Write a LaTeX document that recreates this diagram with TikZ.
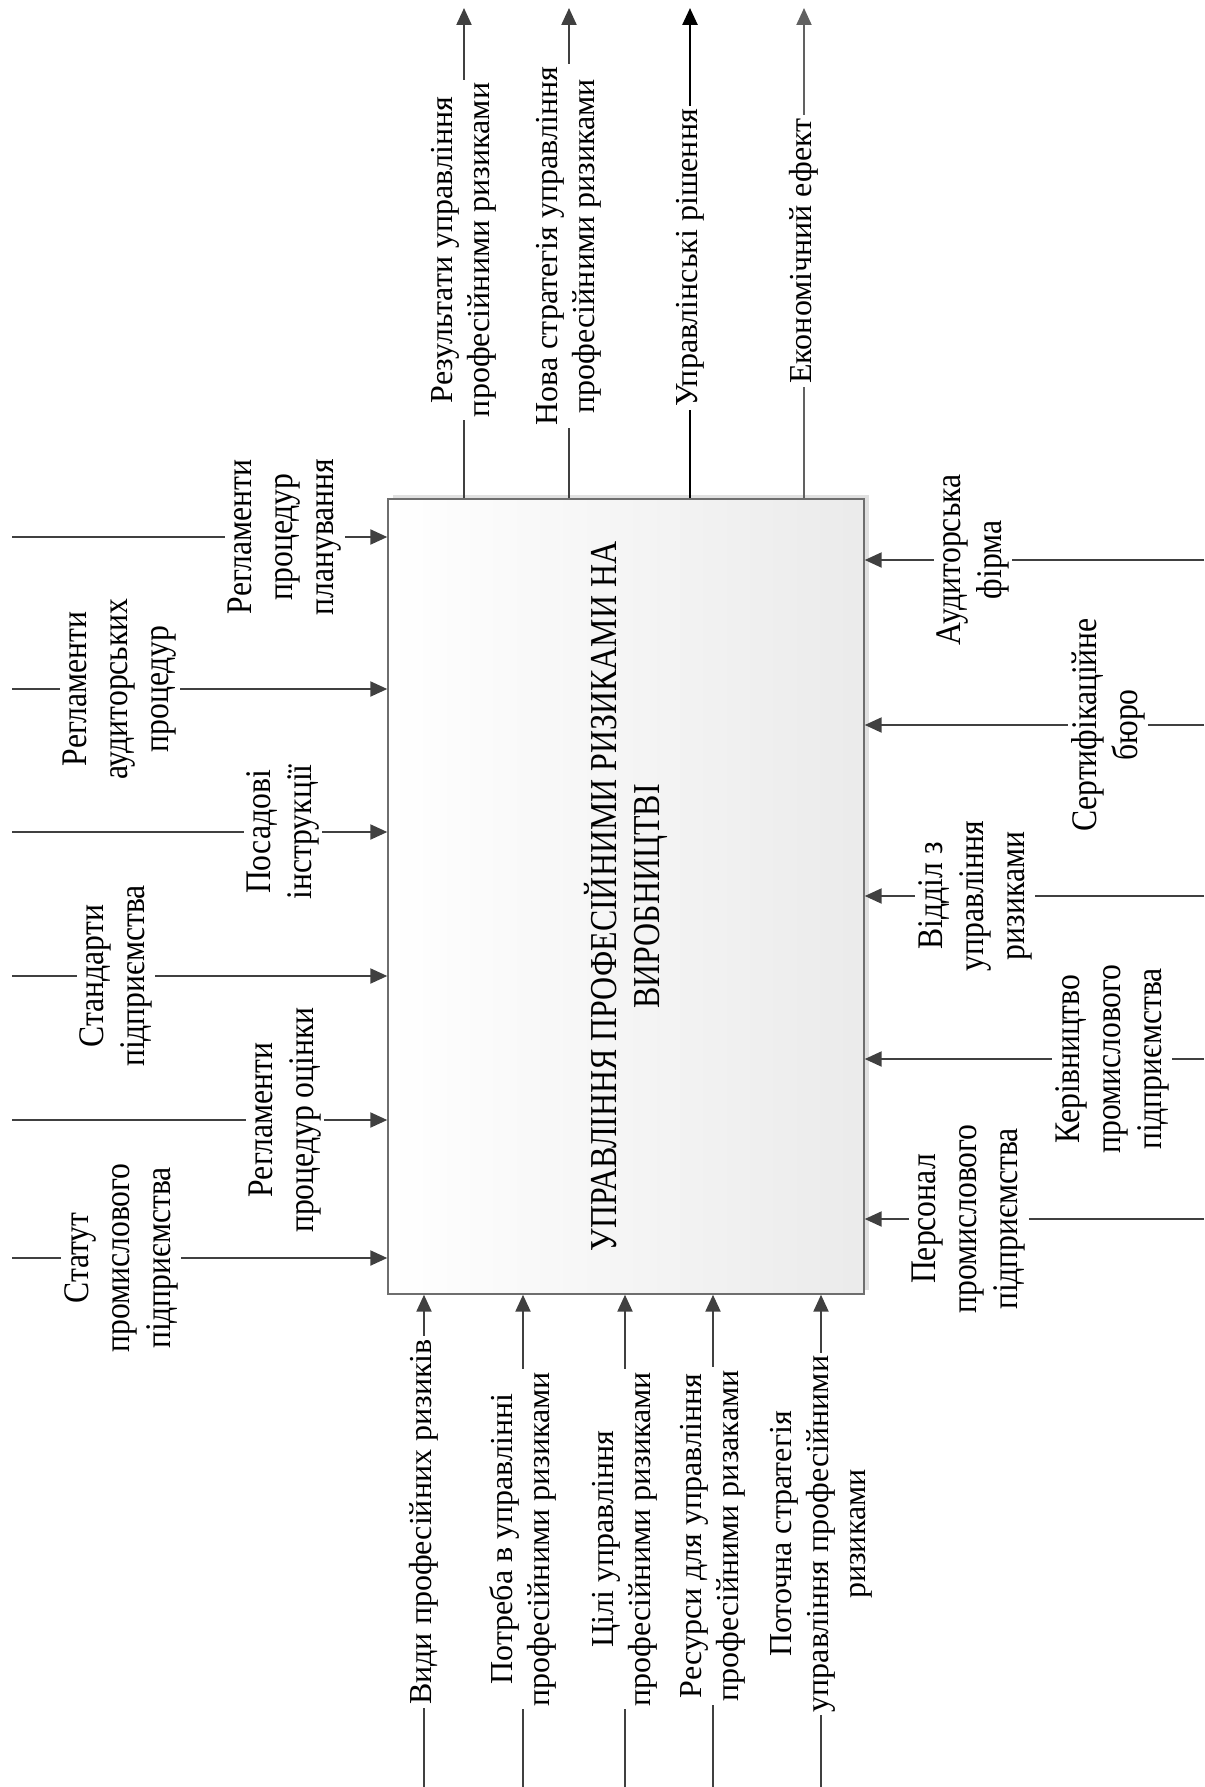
\documentclass[tikz,border=0pt]{standalone}
\usepackage{fontspec}
\setmainfont{Liberation Serif}
\newfontfamily\condfont[FakeStretch=0.88]{Liberation Serif}
\newfontfamily\boxfont[FakeStretch=0.84]{Liberation Serif}
\usetikzlibrary{arrows.meta,shadows}
\definecolor{linecol}{HTML}{404040}
\definecolor{boxgray}{HTML}{6E6E6E}
\tikzset{
  flowarrow/.style={draw=linecol, line width=1.1pt, -{Triangle[length=8.5pt,width=7.5pt]}},
  lbltb/.style={fill=white, inner sep=1.5pt, rotate=90, align=center, text=black,
    font=\fontsize{16}{18.4}\selectfont},
  lblside/.style={fill=white, inner sep=1.5pt, rotate=90, align=center, text=black,
    font=\condfont\fontsize{18}{20.5}\selectfont},
  mainbox/.style={draw=boxgray, line width=0.7pt, minimum width=238pt, minimum height=397.5pt,
    inner sep=0pt, left color=white, right color=black!8,
    drop shadow={shadow xshift=2.5pt, shadow yshift=2pt, fill=black!12, opacity=1}},
  boxtitle/.style={rotate=90, align=center, inner sep=0pt,
    font=\boxfont\fontsize{19}{21.7}\selectfont}
}
\begin{document}
\begin{tikzpicture}[x=0.5pt,y=-0.5pt]
\useasboundingbox (0,0) rectangle (1204,1787);
\node[mainbox] (box) at (626,896.5) {};
\node[boxtitle] (title) at (box.center) {УПРАВЛІННЯ ПРОФЕСІЙНИМИ РИЗИКАМИ НА\\ВИРОБНИЦТВІ};

% top outputs
\coordinate (t1) at (464,8);
\coordinate (t2) at (569,8);
\coordinate (t3) at (690,8);
\coordinate (t4) at (804,8);
\draw[flowarrow] (t1 |- box.north) -- (t1);
\draw[flowarrow] (t2 |- box.north) -- (t2);
\draw[flowarrow, draw=black, line width=1.3pt] (t3 |- box.north) -- (t3);
\draw[flowarrow, draw=black!62, line width=1pt] (t4 |- box.north) -- (t4);
\node[lbltb] (Lt1) at (464,250) {Результати управління\\професійними ризиками};
\node[lbltb] (Lt2) at (569,246) {Нова стратегія управління\\професійними ризиками};
\node[lbltb] (Lt3) at (690,258) {Управлінські рішення};
\node[lbltb] (Lt4) at (804,251) {Економічний ефект};

% left
\coordinate (c1) at (12,537);
\coordinate (c2) at (12,689);
\coordinate (c3) at (12,832);
\coordinate (c4) at (12,976);
\coordinate (c5) at (12,1120);
\coordinate (c6) at (12,1258);
\foreach \i in {1,...,6}{\draw[flowarrow] (c\i) -- (c\i -| box.west);}
\node[lblside] (Lc1) at (285,537) {Регламенти\\процедур\\планування};
\node[lblside] (Lc2) at (120,689) {Регламенти\\аудиторських\\процедур};
\node[lblside] (Lc3) at (283,832) {Посадові\\інструкції};
\node[lblside] (Lc4) at (116,976) {Стандарти\\підприємства};
\node[lblside] (Lc5) at (285,1120) {Регламенти\\процедур оцінки};
\node[lblside] (Lc6) at (121,1258) {Статут\\промислового\\підприємства};

% right
\coordinate (m1) at (1204,560);
\coordinate (m2) at (1204,725);
\coordinate (m3) at (1204,896);
\coordinate (m4) at (1204,1059);
\coordinate (m5) at (1204,1219);
\foreach \i in {1,...,5}{\draw[flowarrow] (m\i) -- (m\i -| box.east);}
\node[lblside] (Lm1) at (973,560) {Аудиторська\\фірма};
\node[lblside] (Lm2) at (1108,725) {Сертифікаційне\\бюро};
\node[lblside] (Lm3) at (975,896) {Відділ з\\управління\\ризиками};
\node[lblside] (Lm4) at (1112,1059) {Керівництво\\промислового\\підприємства};
\node[lblside] (Lm5) at (969,1219) {Персонал\\промислового\\підприємства};

% bottom
\coordinate (b1) at (424,1787);
\coordinate (b2) at (523,1787);
\coordinate (b3) at (625,1787);
\coordinate (b4) at (713,1787);
\coordinate (b5) at (821,1787);
\foreach \i in {1,...,5}{\draw[flowarrow] (b\i) -- (b\i |- box.south);}
\node[lbltb] (Lb1) at (424,1522) {Види професійних ризиків};
\node[lbltb] (Lb2) at (523,1539) {Потреба в управлінні\\професійними ризиками};
\node[lbltb] (Lb3) at (625,1539) {Цілі управління\\професійними ризиками};
\node[lbltb] (Lb4) at (713,1536) {Ресурси для управління\\професійними ризаками};
\node[lbltb] (Lb5) at (821,1534) {Поточна стратегія\\управління професійними\\ризиками};
\end{tikzpicture}
\end{document}
